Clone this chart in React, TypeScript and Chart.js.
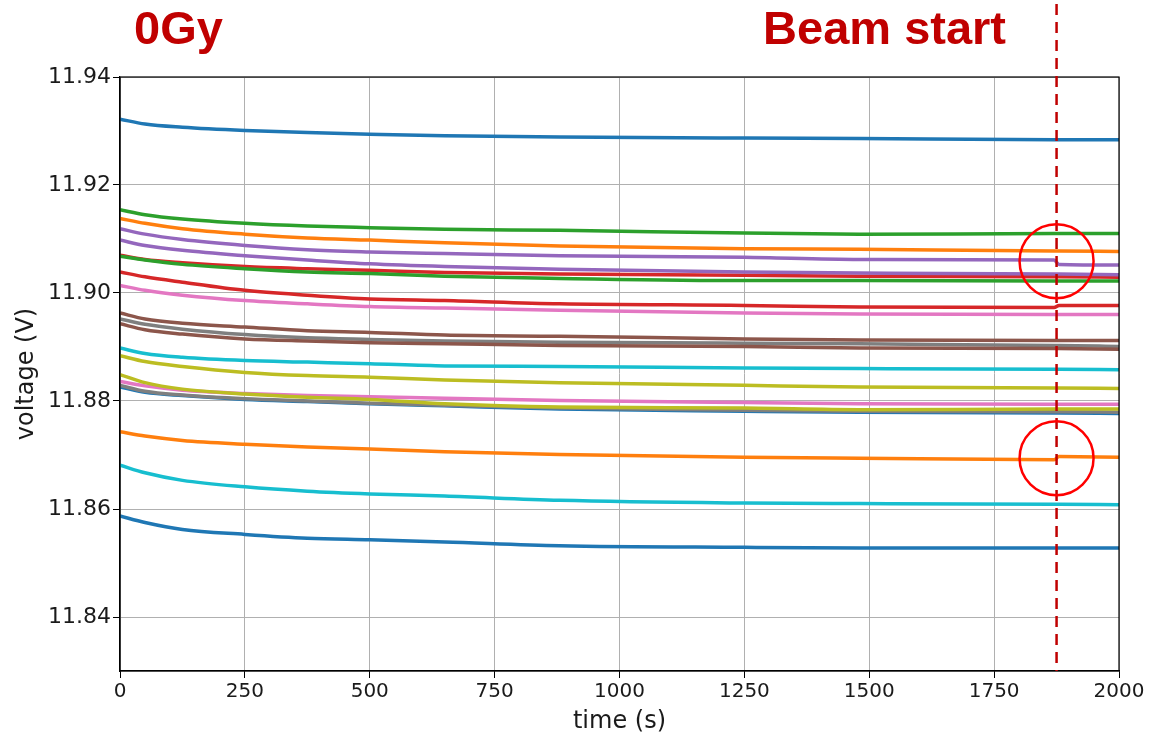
import React, { useEffect, useRef } from "react";
import { Chart, registerables } from "chart.js";

Chart.register(...registerables);

// sample times (s)
const times = [0, 50, 125, 250, 375, 500, 650, 880, 1250, 1480, 1870, 1880, 2000];

// voltage series (V), in matplotlib tab10 cycle order
const s00_blue = [11.9322, 11.9313, 11.9307, 11.9301, 11.9297, 11.9294, 11.9291, 11.9289, 11.9287, 11.9286, 11.9284, 11.9284, 11.9284];
const s01_orange = [11.9138, 11.9129, 11.9119, 11.9109, 11.9102, 11.9098, 11.9093, 11.9087, 11.9082, 11.9081, 11.9078, 11.9078, 11.9077];
const s02_green = [11.9154, 11.9145, 11.9137, 11.9129, 11.9124, 11.9121, 11.9118, 11.9116, 11.9111, 11.9109, 11.9110, 11.9110, 11.9110];
const s03_red = [11.9070, 11.9062, 11.9056, 11.9049, 11.9045, 11.9042, 11.9038, 11.9035, 11.9033, 11.9031, 11.9030, 11.9030, 11.9029];
const s04_purple = [11.9119, 11.9109, 11.9099, 11.9088, 11.9080, 11.9076, 11.9073, 11.9069, 11.9066, 11.9062, 11.9061, 11.9053, 11.9052];
const s05_brown = [11.8963, 11.8952, 11.8944, 11.8937, 11.8930, 11.8927, 11.8922, 11.8920, 11.8915, 11.8913, 11.8912, 11.8912, 11.8912];
const s06_pink = [11.9014, 11.9005, 11.8996, 11.8986, 11.8980, 11.8975, 11.8972, 11.8968, 11.8963, 11.8961, 11.8960, 11.8960, 11.8960];
const s07_gray = [11.8952, 11.8942, 11.8933, 11.8923, 11.8917, 11.8914, 11.8911, 11.8909, 11.8907, 11.8906, 11.8903, 11.8903, 11.8901];
const s08_olive = [11.8884, 11.8873, 11.8864, 11.8853, 11.8847, 11.8844, 11.8839, 11.8834, 11.8829, 11.8826, 11.8824, 11.8824, 11.8823];
const s09_cyan = [11.8898, 11.8888, 11.8881, 11.8875, 11.8872, 11.8869, 11.8865, 11.8864, 11.8861, 11.8860, 11.8859, 11.8859, 11.8858];
const s10_blue = [11.8826, 11.8816, 11.8810, 11.8803, 11.8799, 11.8795, 11.8791, 11.8785, 11.8781, 11.8779, 11.8778, 11.8778, 11.8777];
const s11_orange = [11.8743, 11.8735, 11.8727, 11.8720, 11.8715, 11.8711, 11.8706, 11.8701, 11.8696, 11.8694, 11.8691, 11.8697, 11.8696];
const s12_green = [11.9068, 11.9061, 11.9053, 11.9045, 11.9039, 11.9036, 11.9031, 11.9027, 11.9023, 11.9023, 11.9022, 11.9022, 11.9022];
const s13_red = [11.9039, 11.9030, 11.9020, 11.9005, 11.8996, 11.8989, 11.8986, 11.8980, 11.8977, 11.8974, 11.8973, 11.8977, 11.8977];
const s14_purple = [11.9098, 11.9088, 11.9079, 11.9069, 11.9061, 11.9054, 11.9049, 11.9044, 11.9039, 11.9037, 11.9035, 11.9035, 11.9034];
const s15_brown = [11.8943, 11.8932, 11.8924, 11.8915, 11.8911, 11.8908, 11.8906, 11.8903, 11.8901, 11.8898, 11.8897, 11.8897, 11.8896];
const s16_pink = [11.8836, 11.8828, 11.8820, 11.8814, 11.8810, 11.8808, 11.8805, 11.8801, 11.8797, 11.8795, 11.8794, 11.8794, 11.8794];
const s17_gray = [11.8829, 11.8818, 11.8811, 11.8804, 11.8800, 11.8796, 11.8792, 11.8787, 11.8783, 11.8781, 11.8780, 11.8780, 11.8779];
const s18_olive = [11.8849, 11.8834, 11.8822, 11.8813, 11.8807, 11.8803, 11.8795, 11.8789, 11.8787, 11.8784, 11.8785, 11.8785, 11.8785];
const s19_cyan = [11.8681, 11.8667, 11.8653, 11.8641, 11.8633, 11.8628, 11.8624, 11.8616, 11.8611, 11.8610, 11.8609, 11.8609, 11.8608];
const s20_blue = [11.8587, 11.8575, 11.8562, 11.8553, 11.8546, 11.8543, 11.8539, 11.8532, 11.8529, 11.8528, 11.8528, 11.8528, 11.8528];

const seriesList = [
  s00_blue, s01_orange, s02_green, s03_red, s04_purple, s05_brown, s06_pink,
  s07_gray, s08_olive, s09_cyan, s10_blue, s11_orange, s12_green, s13_red,
  s14_purple, s15_brown, s16_pink, s17_gray, s18_olive, s19_cyan, s20_blue,
];

const tab10 = [
  "#1f77b4", "#ff7f0e", "#2ca02c", "#d62728", "#9467bd",
  "#8c564b", "#e377c2", "#7f7f7f", "#bcbd22", "#17becf",
];

const xTicks = [0, 250, 500, 750, 1000, 1250, 1500, 1750, 2000];
const yTicks = [11.84, 11.86, 11.88, 11.9, 11.92, 11.94];
const xMin = 0, xMax = 2000, yMin = 11.83, yMax = 11.94;

const beamStart = 1875;
const circleCenters = [11.9059, 11.8694];
const doseLabel = "0Gy";
const beamLabel = "Beam start";

const annotationPlugin = {
  id: "annot",
  afterDraw(chart: any) {
    const { ctx, chartArea, scales } = chart;
    const xs = scales.x, ys = scales.y;
    ctx.save();
    // frame
    ctx.strokeStyle = "#000";
    ctx.lineWidth = 1.2;
    ctx.strokeRect(chartArea.left, chartArea.top, chartArea.right - chartArea.left, chartArea.bottom - chartArea.top);
    // dashed beam start line
    const bx = xs.getPixelForValue(beamStart);
    ctx.strokeStyle = "#c00000";
    ctx.lineWidth = 2.5;
    ctx.setLineDash([11, 7]);
    ctx.beginPath();
    ctx.moveTo(bx, 4);
    ctx.lineTo(bx, chartArea.bottom);
    ctx.stroke();
    ctx.setLineDash([]);
    // circles
    ctx.strokeStyle = "#ff0000";
    ctx.lineWidth = 2.5;
    for (const v of circleCenters) {
      ctx.beginPath();
      ctx.arc(bx, ys.getPixelForValue(v), 37, 0, Math.PI * 2);
      ctx.stroke();
    }
    // labels
    ctx.fillStyle = "#c00000";
    ctx.font = "bold 47px 'Liberation Sans', Arial, sans-serif";
    ctx.textBaseline = "alphabetic";
    ctx.textAlign = "left";
    ctx.fillText(doseLabel, 134, 44);
    ctx.textAlign = "right";
    ctx.fillText(beamLabel, 1006, 44);
    ctx.restore();
  },
};

export default function App() {
  const ref = useRef<HTMLCanvasElement>(null);
  useEffect(() => {
    if (!ref.current) return;
    const n = seriesList.length;
    const datasets = seriesList.map((s, i) => ({
      label: "s" + i,
      data: s.map((v, j) => ({ x: times[j], y: v })),
      borderColor: tab10[i % 10],
      backgroundColor: tab10[i % 10],
      borderWidth: 3.5,
      pointRadius: 0,
      cubicInterpolationMode: "monotone" as const,
      order: n - i,
      fill: false,
    }));
    const chart = new Chart(ref.current, {
      type: "line",
      data: { datasets },
      options: {
        animation: false,
        responsive: false,
        maintainAspectRatio: false,
        layout: { padding: { left: 0, top: 77, right: 31, bottom: 0 } },
        plugins: { legend: { display: false }, tooltip: { enabled: false } },
        scales: {
          x: {
            type: "linear",
            min: xMin,
            max: xMax,
            afterBuildTicks: (s: any) => { s.ticks = xTicks.map((v) => ({ value: v })); },
            afterFit: (s: any) => { s.height = 67; },
            grid: { color: "#b0b0b0", lineWidth: 1, tickColor: "#000", tickLength: 7 },
            border: { color: "#000", width: 1.2 },
            ticks: {
              color: "#1a1a1a",
              font: { family: "'DejaVu Sans'", size: 20 },
              padding: 2,
              maxRotation: 0,
              callback: (v: any) => String(v),
            },
            title: {
              display: true,
              text: "time (s)",
              color: "#1a1a1a",
              font: { family: "'DejaVu Sans'", size: 24 },
              padding: { top: 0, bottom: 2 },
            },
          },
          y: {
            type: "linear",
            min: yMin,
            max: yMax,
            afterBuildTicks: (s: any) => { s.ticks = yTicks.map((v) => ({ value: v })); },
            afterFit: (s: any) => { s.width = 120; },
            grid: { color: "#b0b0b0", lineWidth: 1, tickColor: "#000", tickLength: 7 },
            border: { color: "#000", width: 1.2 },
            ticks: {
              color: "#1a1a1a",
              font: { family: "'DejaVu Sans'", size: 22 },
              padding: 2,
              callback: (v: any) => Number(v).toFixed(2),
            },
            title: {
              display: true,
              text: "voltage (V)",
              color: "#1a1a1a",
              font: { family: "'DejaVu Sans'", size: 24 },
              padding: { top: 12, bottom: 0 },
            },
          },
        },
      },
      plugins: [annotationPlugin],
    });
    return () => chart.destroy();
  }, []);
  return (
    <div style={{ position: "fixed", left: 0, top: 0, width: 1150, height: 738, background: "#fff" }}>
      <canvas ref={ref} width={1150} height={738} />
    </div>
  );
}
